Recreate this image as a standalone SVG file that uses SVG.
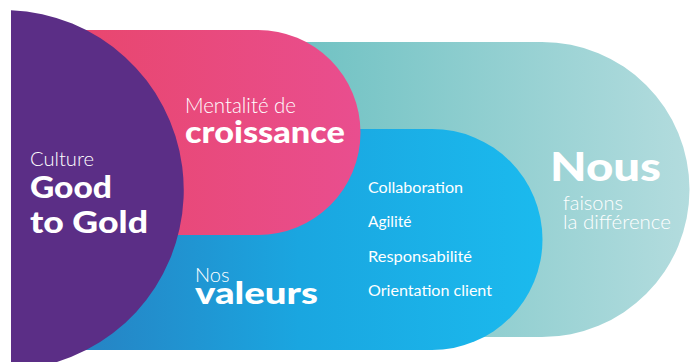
<svg xmlns="http://www.w3.org/2000/svg" width="691" height="362" viewBox="0 0 691 362">
<defs>
<linearGradient id="gTeal" gradientUnits="userSpaceOnUse" x1="300" y1="0" x2="691" y2="0">
<stop offset="0" stop-color="#70C2C3"/>
<stop offset="1" stop-color="#B3DCDE"/>
</linearGradient>
<linearGradient id="gBlue" gradientUnits="userSpaceOnUse" x1="100" y1="0" x2="543" y2="0">
<stop offset="0" stop-color="#2586C6"/>
<stop offset="0.45" stop-color="#1AA6E0"/>
<stop offset="1" stop-color="#1BBAEE"/>
</linearGradient>
<linearGradient id="gPink" gradientUnits="userSpaceOnUse" x1="60" y1="0" x2="363" y2="0">
<stop offset="0" stop-color="#E8466C"/>
<stop offset="1" stop-color="#E94E8F"/>
</linearGradient>
<style>
text{font-family:Lato,"Open Sans","Liberation Sans",sans-serif;fill:#ffffff}
.lt{font-weight:300}
.bd{font-weight:900}
.val{font-size:15.5px;font-weight:400}
</style>
</defs>
<g id="nous">
<path d="M200,42 H542 A147.5,147.5 0 0 1 542,337 H200 Z" fill="url(#gTeal)"/>
<text class="bd" x="550" y="181" font-size="40" textLength="111" lengthAdjust="spacingAndGlyphs">Nous</text>
<text class="lt" x="563" y="210" font-size="20">faisons</text>
<text class="lt" x="563" y="229" font-size="20" textLength="108" lengthAdjust="spacingAndGlyphs">la différence</text>
</g>
<g id="valeurs">
<path d="M60,129 H432 A110.5,110.5 0 0 1 432,350 H60 Z" fill="url(#gBlue)"/>
<text class="lt" x="195" y="282" font-size="20">Nos</text>
<text class="bd" x="195" y="304" font-size="30" textLength="123" lengthAdjust="spacingAndGlyphs">valeurs</text>
<text class="val" x="368" y="193" textLength="95" lengthAdjust="spacingAndGlyphs">Collaboration</text>
<text class="val" x="368" y="227">Agilité</text>
<text class="val" x="368" y="262" textLength="104" lengthAdjust="spacingAndGlyphs">Responsabilité</text>
<text class="val" x="368" y="296" textLength="124" lengthAdjust="spacingAndGlyphs">Orientation client</text>
</g>
<g id="croissance">
<path d="M40,30 H258 A102.5,102.5 0 0 1 258,235 H40 Z" fill="url(#gPink)"/>
<text class="lt" x="185" y="113" font-size="21" textLength="111" lengthAdjust="spacingAndGlyphs">Mentalité de</text>
<text class="bd" x="185" y="143" font-size="30" textLength="160" lengthAdjust="spacingAndGlyphs">croissance</text>
</g>
<g id="culture">
<path d="M11,10.2 A180,180 0 0 1 57,362 H11 Z" fill="#5B2E86"/>
<text class="lt" x="30" y="166" font-size="20.5" textLength="64" lengthAdjust="spacingAndGlyphs">Culture</text>
<text class="bd" x="30" y="198" font-size="30" textLength="82" lengthAdjust="spacingAndGlyphs">Good</text>
<text class="bd" x="30" y="233" font-size="30" textLength="118" lengthAdjust="spacingAndGlyphs">to Gold</text>
</g>
<g id="connectors"/>
</svg>
